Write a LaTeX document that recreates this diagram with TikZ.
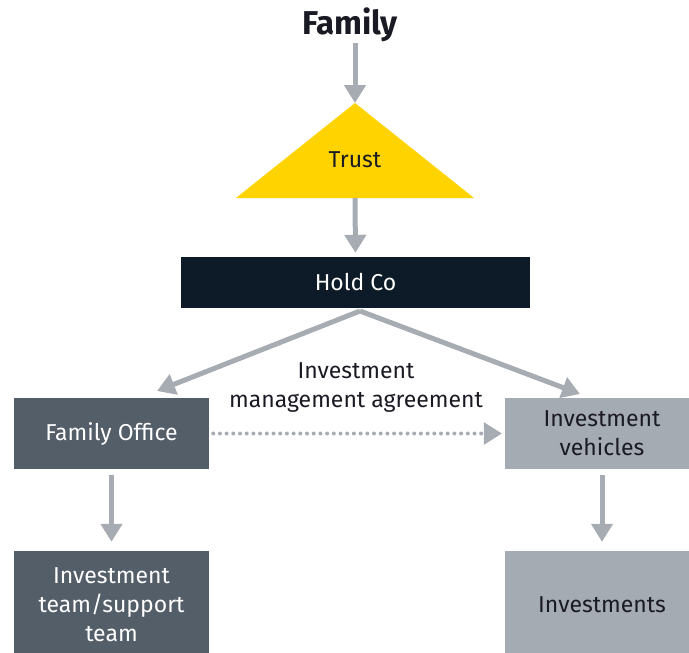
\documentclass[tikz,border=0pt]{standalone}
\usepackage{fontspec}
\setmainfont{Fira Sans}
\usetikzlibrary{arrows.meta,positioning}
\definecolor{eyyellow}{HTML}{FFD300}
\definecolor{eynavy}{HTML}{0D1A28}
\definecolor{eyslate}{HTML}{535E69}
\definecolor{eygrey}{HTML}{A5ABB2}
\definecolor{eyarrow}{HTML}{A7ACB2}
\definecolor{eytext}{HTML}{1A1A24}
\tikzset{
  x=1pt, y=-1pt,
  txt/.style={font=\fontsize{23}{29}\selectfont, align=center, inner sep=0pt},
  box/.style={txt, minimum height=71pt, minimum width=195pt, anchor=center},
  flow/.style={draw=eyarrow, line width=5pt, -{Triangle[length=18pt,width=21pt]}},
  dots/.style={draw=eyarrow, line width=4pt, line cap=round, dash pattern=on 0pt off 6.7pt},
}
\begin{document}
\begin{tikzpicture}
\useasboundingbox (0,0) rectangle (689,653);
\clip (0,0) rectangle (689,653);
% Family
\node[font=\fontsize{33}{38}\bfseries\selectfont, text=eytext, inner sep=0pt] (fam) at (350,25) {Family};
\coordinate (famout) at (355,43);
% Trust triangle
\coordinate (apex) at (355,103);
\coordinate (trbase) at (355,198);
\fill[eyyellow] (apex) -- (474,198) -- (236,198) -- cycle;
\node[txt, text=eytext] (trust) at (355,160) {Trust};
% Hold Co
\node[box, fill=eynavy, text=white, minimum width=349pt, minimum height=51pt] (hold) at (355.5,282.5) {Hold Co};
\coordinate (hsplit) at (360,311);
% second row
\node[box, fill=eyslate, text=white] (fo) at (111.5,433.5) {Family Office};
\node[box, fill=eygrey, text=eytext, minimum width=194pt] (iv) at (602,433.5) {Investment\\vehicles};
% third row
\node[box, fill=eyslate, text=white, minimum height=108pt] (team) at (111.5,605) {Investment\\team/support\\team};
\node[box, fill=eygrey, text=eytext, minimum width=194pt, minimum height=108pt] (inv) at (602,605) {Investments};
% label
\node[txt, text=eytext] (ima) at (356,387.5) {Investment\\management agreement};
% arrows
\draw[flow] (famout) -- (apex);
\draw[flow, shorten >=4pt] (trbase) -- (hold.north);
\coordinate (fotip) at (157,391);
\coordinate (ivtip) at (580,394);
\draw[flow] (hsplit) -- (fotip);
\draw[flow] (hsplit) -- (ivtip);
\draw[flow, shorten <=6pt, shorten >=9pt] (fo.south) -- (team.north);
\draw[flow, shorten <=6pt, shorten >=9pt] (iv.south) -- (inv.north);
\coordinate (dotend) at (484,433.5);
\draw[dots] ([xshift=4pt]fo.east) -- (dotend);
\draw[eyarrow, line width=3pt, -{Triangle[length=18pt,width=22pt]}] (dotend) -- ([xshift=-3pt]iv.west);
\end{tikzpicture}
\end{document}
